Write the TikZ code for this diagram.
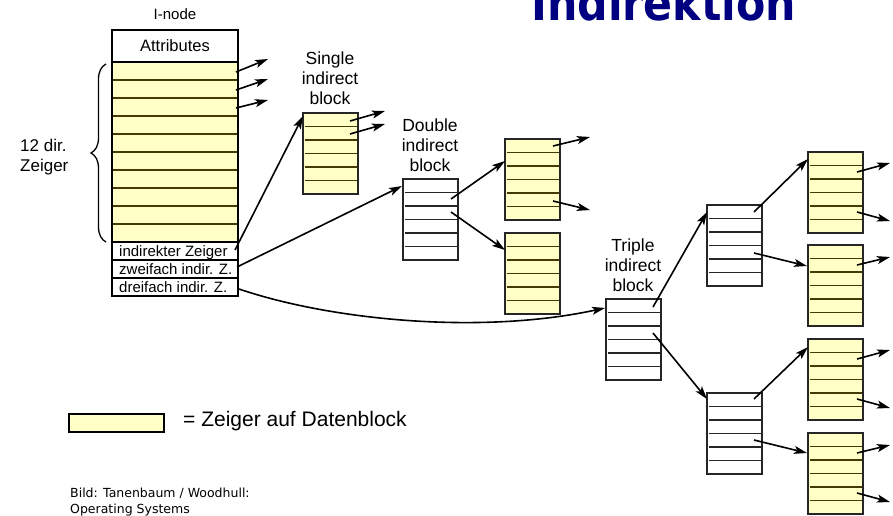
\documentclass[tikz,border=0pt]{standalone}
\usepackage{fontspec}
\setmainfont{Liberation Sans}
\newfontfamily\titlefont{DejaVu Sans}
\newfontfamily\footfont{DejaVu Sans}
\usetikzlibrary{arrows.meta,calc,decorations.pathreplacing}
\definecolor{cream}{RGB}{255,255,198}
\definecolor{oliveline}{RGB}{68,58,8}
\definecolor{titleblue}{RGB}{0,0,128}
\newcommand\fsz[2]{\fontsize{#1}{#2}\selectfont}
\newcommand\drawblk[4]{%
  \node[#4] (#1) at (#2,#3) {};
  \foreach \k in {1,...,5}{\draw[#4 line] ($(#1.north west)!\k/6!(#1.south west)+(1.5,0)$) -- ($(#1.north east)!\k/6!(#1.south east)+(-1.5,0)$);}
  \draw[line width=1.8pt,draw=black!85] (#1.north west) rectangle (#1.south east);
}
\begin{document}
\begin{tikzpicture}[x=1pt,y=-1pt,
  blkbase/.style={anchor=north west, minimum width=55pt, minimum height=81pt, inner sep=0pt, outer sep=0pt},
  yblk/.style={blkbase, fill=cream},
  wblk/.style={blkbase, fill=white},
  yblk line/.style={draw=oliveline, line width=1.5pt},
  wblk line/.style={draw=black!85, line width=1.4pt},
  ptr/.style={line width=1.6pt, -{Stealth[length=13pt,width=8pt,inset=3pt]}},
  lbl/.style={font=\fsz{17.5}{20}, align=center, inner sep=0pt},
  rowbox/.style={anchor=north west, draw, line width=1.7pt, minimum width=126pt, minimum height=18pt, inner sep=0pt, outer sep=0pt},
  rowtxt/.style={anchor=base west, inner sep=0pt, font=\fsz{15}{18}},
]
\clip (0,0) rectangle (893,515);

% title (cut at top)
\node[anchor=base west, inner sep=0pt, text=titleblue, font=\titlefont\bfseries\fsz{48}{50}] (title) at (531,20) {\scalebox{0.89}[1]{Indirektion}};

% I-node
\node[font=\fsz{15}{18}] (inlabel) at (175,14) {I-node};
\node[rowbox, minimum height=32pt, font=\fsz{16.5}{19}] (attr) at (112,30) {Attributes};
\node[rowbox, minimum height=180pt, fill=cream] (direct) at (112,62) {};
\foreach \k in {1,...,9}{\draw[draw=oliveline, line width=1.8pt] ($(direct.north west)!\k/10!(direct.south west)$) -- ($(direct.north east)!\k/10!(direct.south east)$);}
\node[rowbox] (r1) at (112,242) {};
\node[rowbox] (r2) at (112,260) {};
\node[rowbox] (r3) at (112,278) {};
\node[rowtxt] (t1) at (119,256) {indirekter Zeiger};
\node[rowtxt] (t2) at (119,274) {zweifach indir. Z.};
\node[rowtxt] (t3) at (119,292) {dreifach indir. Z.};
\draw[line width=1.8pt] (attr.north west) rectangle (r3.south east);

% brace
\draw[decorate, decoration={brace, amplitude=15pt}, line width=1.3pt] (106,242) -- (106,64);
\node[font=\fsz{17}{20}, align=left, anchor=west, inner sep=0pt] (dz) at (20,157) {12 dir.\\Zeiger};

% direct pointers
\coordinate (de1) at (268,59);
\coordinate (de2) at (268,79);
\coordinate (de3) at (268,100);
\draw[ptr] ($(direct.north east)+(-2,10)$) -- (de1);
\draw[ptr] ($(direct.north east)+(-2,28)$) -- (de2);
\draw[ptr] ($(direct.north east)+(-2,46)$) -- (de3);

% blocks
\drawblk{sib}{303}{113}{yblk}
\drawblk{dib}{403}{179}{wblk}
\drawblk{da}{505}{139}{yblk}
\drawblk{db}{505}{233}{yblk}
\drawblk{tri}{606}{299}{wblk}
\drawblk{tu}{707}{205}{wblk}
\drawblk{tl}{707}{393}{wblk}
\drawblk{rA}{808}{152}{yblk}
\drawblk{rB}{808}{245}{yblk}
\drawblk{rC}{808}{339}{yblk}
\drawblk{rD}{808}{433}{yblk}

% labels
\node[lbl] (slbl) at (330,78) {Single\\indirect\\block};
\node[lbl] (dlbl) at (430,145) {Double\\indirect\\block};
\node[lbl] (tlbl) at (633,265) {Triple\\indirect\\block};

% indirect pointers from I-node
\draw[ptr] ($(r1.north east)+(-3,8)$) -- ($(sib.north west)+(0,3)$);
\draw[ptr] ($(r2.north east)+(-1,7)$) -- ($(dib.north west)+(-1,7)$);
\draw[ptr] ($(r3.north east)+(1,11)$) .. controls (330,320) and (480,335) .. ($(tri.north west)+(-1,9)$);

% single block outputs
\coordinate (se1) at (385,111);
\coordinate (se2) at (385,124);
\draw[ptr] ($(sib.north west)+(47,8)$) -- (se1);
\draw[ptr] ($(sib.north west)+(47,21)$) -- (se2);

% double block
\draw[ptr] ($(dib.north west)+(48,20)$) -- ($(da.north west)+(0,22)$);
\draw[ptr] ($(dib.north west)+(48,33)$) -- ($(db.north west)+(0,17)$);
\coordinate (dae1) at (590,137);
\coordinate (dae2) at (590,210);
\draw[ptr] ($(da.north west)+(48,7)$) -- (dae1);
\draw[ptr] ($(da.north west)+(48,62)$) -- (dae2);

% triple block
\draw[ptr] ($(tri.north west)+(47,8)$) -- ($(tu.north west)+(0,7)$);
\draw[ptr] ($(tri.north west)+(47,34)$) -- ($(tl.north west)+(0,6)$);
\draw[ptr] ($(tu.north west)+(47,7)$) -- ($(rA.north west)+(0,7)$);
\draw[ptr] ($(tu.north west)+(47,48)$) -- ($(rB.north west)+(-1,21)$);
\draw[ptr] ($(tl.north west)+(47,6)$) -- ($(rC.north west)+(0,8)$);
\draw[ptr] ($(tl.north west)+(47,47)$) -- ($(rD.north west)+(-1,20)$);

% right outputs
\coordinate (ra1) at (890,163);
\coordinate (ra2) at (890,221);
\coordinate (rb1) at (890,257);
\coordinate (rc1) at (890,350);
\coordinate (rc2) at (890,408);
\coordinate (rd1) at (890,445);
\coordinate (rd2) at (890,502);
\draw[ptr] ($(rA.north west)+(49,20)$) -- (ra1);
\draw[ptr] ($(rA.north west)+(49,60)$) -- (ra2);
\draw[ptr] ($(rB.north west)+(49,20)$) -- (rb1);
\draw[ptr] ($(rC.north west)+(49,20)$) -- (rc1);
\draw[ptr] ($(rC.north west)+(49,60)$) -- (rc2);
\draw[ptr] ($(rD.north west)+(49,20)$) -- (rd1);
\draw[ptr] ($(rD.north west)+(49,60)$) -- (rd2);

% legend
\node[anchor=north west, draw, line width=1.6pt, fill=cream, minimum width=95pt, minimum height=18pt, inner sep=0pt] (leg) at (68,413) {};
\node[anchor=west, inner sep=0pt, font=\fsz{21}{24}] (legtxt) at (183,421) {= Zeiger auf Datenblock};

% footer
\node[anchor=base west, inner sep=0pt, font=\footfont\fsz{12.5}{15}] (f1) at (70,497) {Bild: Tanenbaum / Woodhull:};
\node[anchor=base west, inner sep=0pt, font=\footfont\fsz{12.5}{15}] (f2) at (70,513) {Operating Systems};
\end{tikzpicture}
\end{document}
